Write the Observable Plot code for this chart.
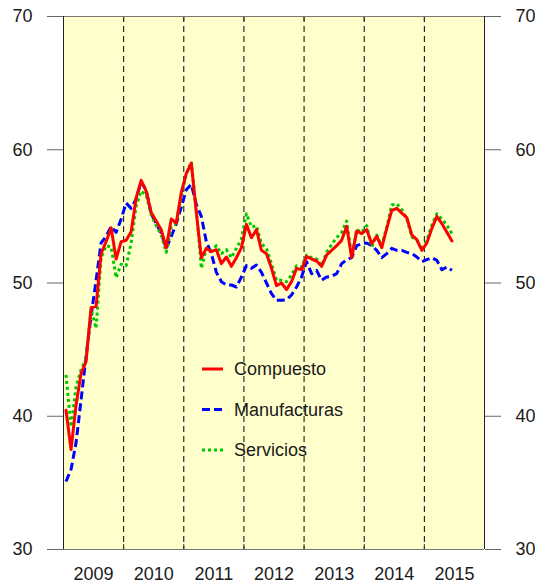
<!DOCTYPE html>
<html>
<head>
<meta charset="utf-8">
<script src="https://cdn.jsdelivr.net/npm/d3@7"></script>
<script src="https://cdn.jsdelivr.net/npm/@observablehq/plot@0.6"></script>
<style>
  body { margin: 0; background: white; }
  #chart { position: relative; width: 535px; height: 584px; }
</style>
</head>
<body>
<div id="chart"></div>
<script>
// Monthly PMI series, Jan 2009 – Jun 2015
const startYear = 2009;
const compuesto = [
  40.45, 37.5, 40.8, 43.2, 44.1, 48.15, 48.25, 52.2, 53.1, 54.15, 51.8, 53.1,
  53.2, 53.85, 56.4, 57.7, 56.9, 55.3, 54.65, 54.0, 52.65, 54.8, 54.5, 56.8,
  58.2, 59.0, 55.3, 51.9, 52.6, 52.35, 52.5, 51.45, 51.95, 51.25, 51.9, 52.65,
  54.4, 53.4, 54.0, 52.45, 52.2, 51.1, 49.8, 50.0, 49.5, 50.1, 51.1, 51.0,
  52.0, 51.8, 51.65, 51.25, 52.1, 52.45, 52.8, 53.2, 54.25, 51.9, 53.9, 53.7,
  54.0, 52.95, 53.5, 52.65, 54.1, 55.45, 55.6, 55.25, 54.9, 53.6, 53.25, 52.45,
  53.0, 54.1, 55.0, 54.45, 53.8, 53.15
];
const manufacturas = [
  35.1, 36.0, 38.0, 41.2, 44.5, 47.5, 50.2, 53.0, 53.5, 54.25, 53.8, 54.8,
  56.0, 55.6, 56.3, 57.6, 56.95, 55.2, 54.45, 53.75, 52.6, 53.5, 54.45, 55.7,
  57.0, 57.4, 55.9, 55.0, 53.1, 52.2, 50.8, 50.1, 49.85, 49.85, 49.7, 50.45,
  51.3, 51.1, 51.35, 50.8, 50.0, 49.2, 48.7, 48.7, 48.75, 49.1, 49.7, 50.45,
  51.6, 50.7, 50.95, 50.2, 50.45, 50.5, 50.7, 51.45, 51.75, 51.9, 52.8, 52.95,
  53.0, 52.8, 52.45, 51.9, 52.2, 52.6, 52.45, 52.45, 52.3, 52.2, 51.95, 51.6,
  51.75, 51.9, 51.7, 51.0, 51.2, 50.95
];
const servicios = [
  43.1, 39.2, 42.2, 43.5, 44.3, 48.0, 46.6, 51.9, 52.8, 52.7, 50.4, 51.4,
  51.3, 53.0, 55.8, 56.9, 56.6, 55.1, 54.3, 53.6, 52.3, 54.2, 54.5, 56.5,
  58.2, 59.1, 55.5, 51.1, 52.6, 52.4, 52.8, 52.2, 52.5, 51.9, 52.6, 53.3,
  55.2, 54.2, 54.3, 52.95, 52.6, 51.45, 50.2, 50.2, 50.1, 50.6, 51.3, 51.2,
  52.1, 51.9, 51.8, 51.3, 52.3, 52.9, 53.4, 53.8, 54.65, 51.95, 54.0, 53.8,
  54.3, 52.7, 53.6, 52.8, 54.2, 55.85, 55.95, 55.5, 54.8, 53.45, 53.2, 52.5,
  53.2, 54.35, 55.2, 54.8, 54.35, 53.7
];
const seriesNames = ["Compuesto", "Manufacturas", "Servicios"];
const yearLabels = [2009, 2010, 2011, 2012, 2013, 2014, 2015];
const yearBreaks = [2010, 2011, 2012, 2013, 2014, 2015];
const yearBounds = [2009, 2010, 2011, 2012, 2013, 2014, 2015, 2016];
const yTicks = [30, 40, 50, 60, 70];

// month index -> decimal year at mid-month
const toRows = (vals) => vals.map((v, i) => ({t: startYear + (i + 0.5) / 12, v}));
const rowsC = toRows(compuesto);
const rowsM = toRows(manufacturas);
const rowsS = toRows(servicios);

const colors = {Compuesto: "#FF0000", Manufacturas: "#0000FF", Servicios: "#00C800"};
const dashes = {Compuesto: null, Manufacturas: "8,4", Servicios: "3,3"};

const W = 535, H = 584, mT = 16, mB = 35;
const frameH = H - mT - mB;

const plot = Plot.plot({
  width: W,
  height: H,
  marginLeft: 63,
  marginRight: 51,
  marginTop: mT,
  marginBottom: mB,
  style: {fontFamily: "'Liberation Sans', Arial, Helvetica, sans-serif", fontSize: "18px", color: "#1a1a1a", background: "white"},
  x: {domain: [2009, 2016]},
  y: {domain: [30, 70]},
  marks: [
    Plot.frame({fill: "#FFFFCC", stroke: null}),
    Plot.ruleX(yearBreaks, {stroke: "black", strokeWidth: 1, strokeDasharray: "6,4"}),
    Plot.tickX(yearBounds, {x: d => d, stroke: "#333", insetBottom: frameH - 5}),
    Plot.tickX(yearBounds, {x: d => d, stroke: "#333", insetTop: frameH - 5}),
    Plot.axisY(yTicks, {anchor: "left", tickSize: 16, tickPadding: 15, stroke: "#666", label: null}),
    Plot.axisY(yTicks, {anchor: "right", tickSize: 16, tickPadding: 15, stroke: "#666", label: null}),
    Plot.axisX(yearLabels.map(y => y + 0.5), {anchor: "bottom", tickSize: 0, tickPadding: 18, tickFormat: d => String(Math.floor(d)), label: null}),
    Plot.ruleY([30, 70], {stroke: "#777"}),
    Plot.ruleX([2009, 2016], {stroke: "#222"}),
    Plot.line(rowsM, {x: "t", y: "v", stroke: colors.Manufacturas, strokeWidth: 3, strokeDasharray: dashes.Manufacturas, strokeLinecap: "butt", curve: "linear"}),
    Plot.line(rowsS, {x: "t", y: "v", stroke: colors.Servicios, strokeWidth: 3, strokeDasharray: dashes.Servicios, strokeLinecap: "butt", curve: "linear"}),
    Plot.line(rowsC, {x: "t", y: "v", stroke: colors.Compuesto, strokeWidth: 3, curve: "linear"})
  ]
});

document.getElementById("chart").appendChild(plot);

// Legend inside the plot area
const svg = d3.select(plot);
const lg = svg.append("g").attr("font-size", 18).attr("fill", "#1a1a1a");
seriesNames.forEach((name, i) => {
  const y = 369 + i * 40.5;
  lg.append("line")
    .attr("x1", 202).attr("x2", 223).attr("y1", y).attr("y2", y)
    .attr("stroke", colors[name]).attr("stroke-width", 3)
    .attr("stroke-dasharray", dashes[name]);
  lg.append("text")
    .attr("x", 234).attr("y", y).attr("dy", "0.35em")
    .attr("text-anchor", "start")
    .text(name);
});
</script>
</body>
</html>
